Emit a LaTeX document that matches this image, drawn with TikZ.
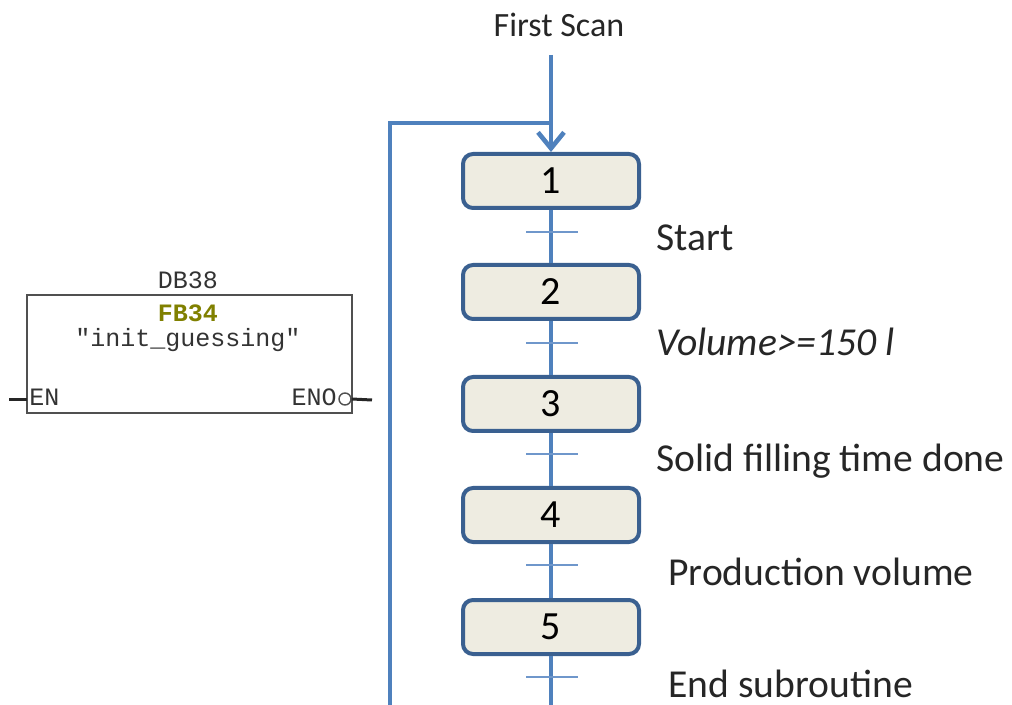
\documentclass[tikz,border=0pt]{standalone}
\usepackage{fontspec}
\setmainfont{Carlito}
\newfontfamily\plcfont{Liberation Mono}
\usetikzlibrary{arrows.meta}

\definecolor{flowblue}{HTML}{4F81BD}
\definecolor{stepedge}{HTML}{3A6090}
\definecolor{stepfill}{HTML}{EEECE1}
\definecolor{tickblue}{HTML}{6F97CB}
\definecolor{fbolive}{HTML}{808000}
\definecolor{fbgray}{HTML}{505050}

\tikzset{
  flow/.style={draw=flowblue, line width=2.3pt},
  stepbox/.style={draw=stepedge, line width=2pt, fill=stepfill, rounded corners=5pt,
    minimum width=88pt, minimum height=27pt, inner sep=0pt,
    font=\fontsize{20}{22}\selectfont},
  tick/.style={draw=tickblue, line width=1.1pt},
  cond/.style={anchor=west, inner sep=0pt, font=\fontsize{19.8}{22}\selectfont, text=black!85},
  plc/.style={inner sep=0pt, font=\plcfont\fontsize{12.5}{14}\selectfont, text=black!80},
  fbbox/.style={draw=fbgray, line width=0.7pt},
  pin/.style={draw=black!85, line width=1.5pt}
}

\begin{document}
\begin{tikzpicture}[x=0.5pt, y=-0.5pt]
  \useasboundingbox (0,0) rectangle (1012,705);

  % --- SFC chain ---
  \node[inner sep=0pt, font=\fontsize{17}{19}\selectfont, text=black!85] (fs) at (559,25) {First Scan};
  \coordinate (in) at (551,55);
  \coordinate (join) at (551,123);
  \coordinate (corner) at (390,123);
  \coordinate (back) at (390,705);
  \coordinate (out) at (551,705);

  \node[stepbox] (s1) at (551,181) {1};
  \node[stepbox] (s2) at (551,292) {2};
  \node[stepbox] (s3) at (551,404) {3};
  \node[stepbox] (s4) at (551,515) {4};
  \node[stepbox] (s5) at (551,627) {5};

  % return loop
  \draw[flow] (join) -- (corner) -- (back);
  % entry
  \draw[flow, -{Straight Barb[length=8pt, width=13pt, line width=2.3pt]}] (in) -- (s1.north);

  % links between steps
  \draw[flow] (s1.south) -- (s2.north);
  \draw[flow] (s2.south) -- (s3.north);
  \draw[flow] (s3.south) -- (s4.north);
  \draw[flow] (s4.south) -- (s5.north);
  \draw[flow] (s5.south) -- (out);

  % transitions
  \foreach \i/\y in {1/232, 2/343, 3/454, 4/565, 5/677} {
    \coordinate (tl\i) at (526,\y);
    \coordinate (tr\i) at (578,\y);
    \draw[tick] (tl\i) -- (tr\i);
  }

  % transition conditions
  \node[cond] (c1) at (656,238) {Start};
  \node[cond] (c2) at (656,342) {\itshape Volume>=150 l};
  \node[cond] (c3) at (656,461) {Solid filling time done};
  \node[cond] (c4) at (668,572) {Production volume};
  \node[cond] (c5) at (668,684) {End subroutine};

  % --- function block call ---
  \coordinate (fbtl) at (27,295);
  \coordinate (fbbr) at (352,413);
  \draw[fbbox] (fbtl) rectangle (fbbr);
  \node[plc] (db) at (188,280) {DB38};
  \node[plc, text=fbolive, font=\plcfont\bfseries\fontsize{12.5}{14}\selectfont] (fb) at (188,313) {FB34};
  \node[plc] (nm) at (188,340) {"init\_guessing"};
  \node[plc, anchor=west] (en) at (29,397) {EN};
  \node[plc, anchor=east] (eno) at (337,397) {ENO};
  \node[draw=fbgray, line width=0.7pt, circle, minimum size=6pt, inner sep=0pt] (neg) at (345,399) {};
  \coordinate (pinl) at (9,400);
  \coordinate (pinr) at (372,400);
  \draw[pin] (pinl) -- (27,400);
  \draw[pin] (neg.east) -- (pinr);
\end{tikzpicture}
\end{document}
